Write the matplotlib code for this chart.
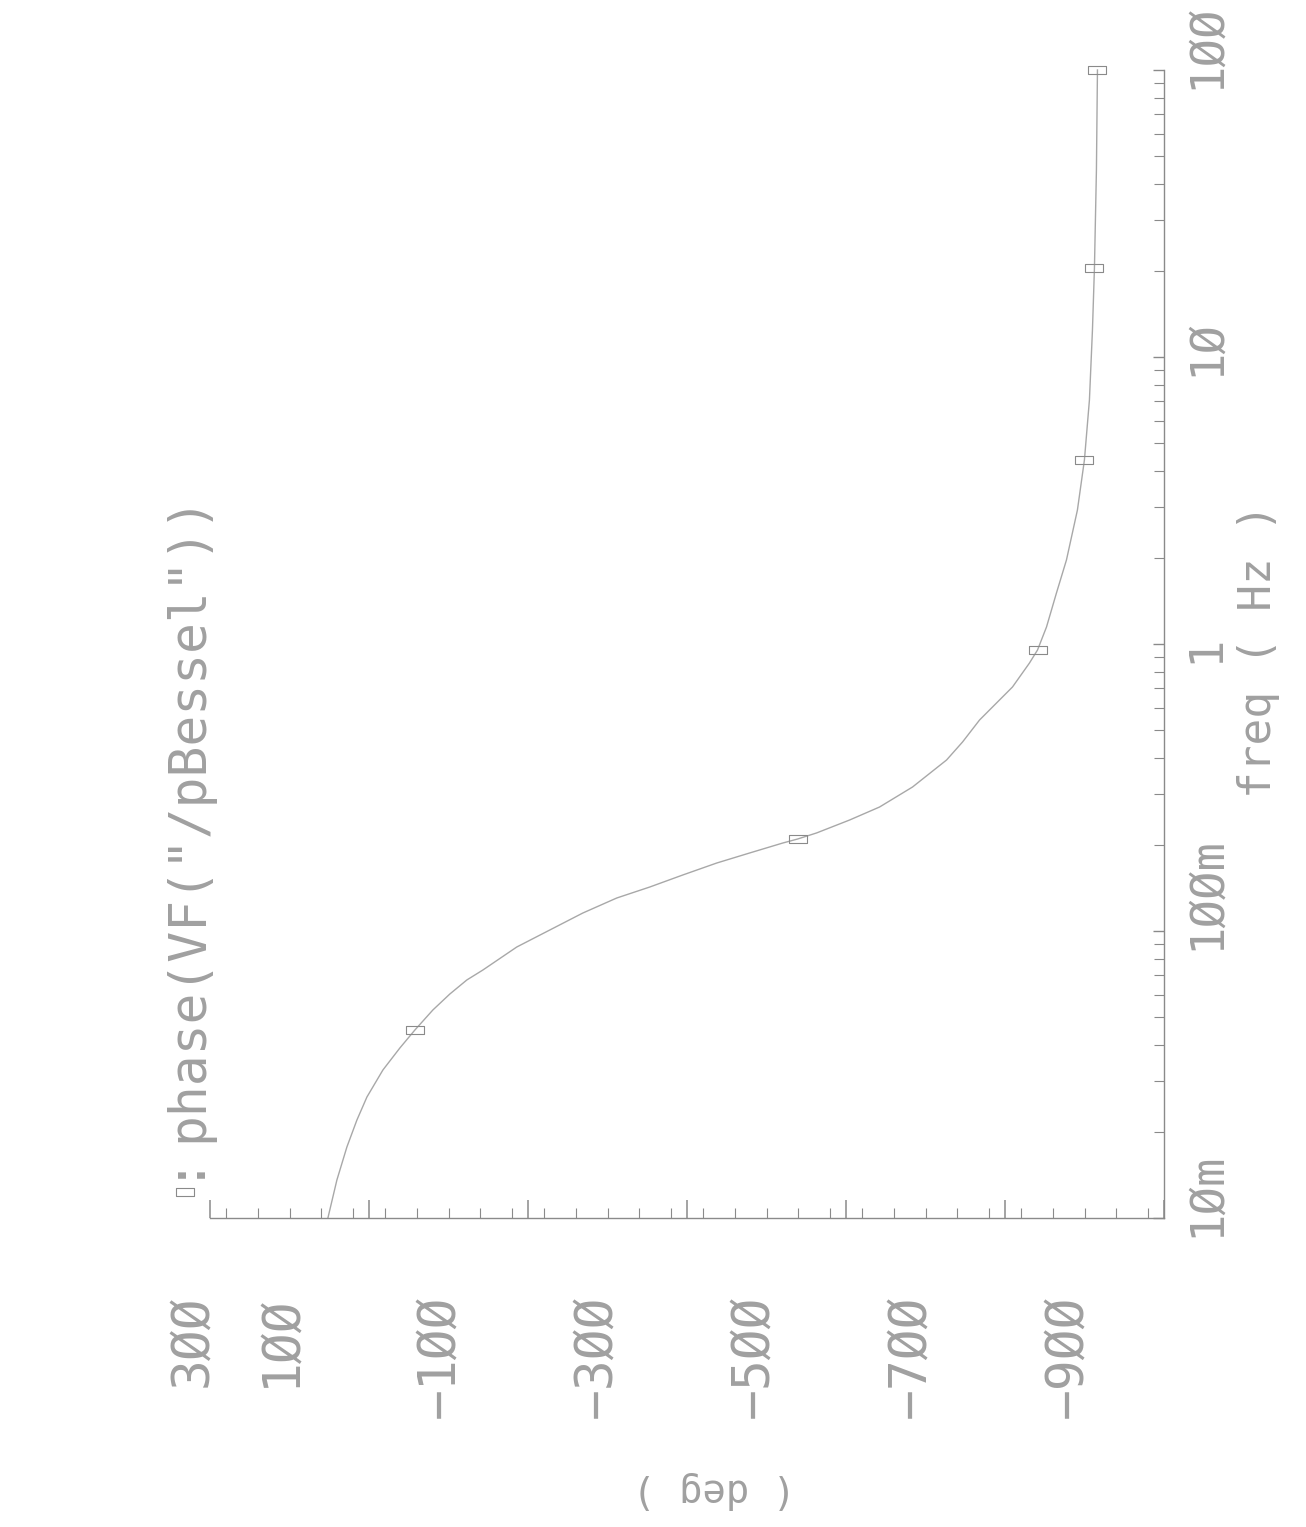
import matplotlib
matplotlib.use("Agg")
import matplotlib.pyplot as plt
import numpy as np
from matplotlib.path import Path
from matplotlib.lines import Line2D
from matplotlib.transforms import ScaledTranslation
from matplotlib.ticker import FixedLocator, LogLocator, NullFormatter, MultipleLocator

# phase of VF("/pBessel") (freq in Hz, phase in deg)
freq = [0.01, 0.01356, 0.01768, 0.02195, 0.0264, 0.03279, 0.03911, 0.04518,
        0.05305, 0.06032, 0.06752, 0.07311, 0.08796, 0.1008, 0.1155, 0.1303,
        0.1423, 0.1567, 0.1725, 0.187, 0.2025, 0.2092, 0.2196, 0.2436, 0.2704,
        0.3175, 0.3943, 0.4556, 0.5435, 0.6228, 0.7082, 0.8586, 0.953, 1.146,
        1.505, 1.962, 2.93, 4.377, 7.084, 12.42, 20.42, 44.84, 100]
phase = [151.7, 140.4, 127.8, 115.2, 102.6, 82.5, 61.2, 42.3,
         19.7, -1.7, -23.1, -43.2, -85.9, -127.4, -168.9, -211.6,
         -253.1, -294.6, -337.3, -378.8, -420.3, -439.2, -463.0, -504.5, -542.2,
         -583.7, -626.5, -646.6, -668.0, -689.3, -709.4, -730.8, -740.9, -752.2,
         -764.7, -777.3, -791.1, -799.9, -806.2, -810.0, -812.5, -815.0, -816.3]
marker_idx = [7, 21, 32, 37, 40, 42]

deg_ticks = [300, 100, -100, -300, -500, -700, -900]
deg_labels = ["3ØØ", "1ØØ", "−1ØØ", "−3ØØ", "−5ØØ", "−7ØØ", "−9ØØ"]
freq_ticks = [0.01, 0.1, 1, 10, 100]
freq_labels = ["1Øm", "1ØØm", "1", "1Ø", "1ØØ"]

W, H = 1306, 1527
grey = "#8a8a8a"
tgrey = "#a0a0a0"
plt.rcParams['font.family'] = ['DejaVu Sans Mono', 'DejaVu Sans']
fs = 37

fig = plt.figure(figsize=(W / 100, H / 100), dpi=100)
ax = fig.add_axes([210 / W, (H - 1218) / H, (1164 - 210) / W, (1218 - 70) / H])

rect = Path([(-1, -0.4), (1, -0.4), (1, 0.4), (-1, 0.4), (-1, -0.4)],
            [Path.MOVETO, Path.LINETO, Path.LINETO, Path.LINETO, Path.CLOSEPOLY])
ax.plot(phase, freq, color="#a8a8a8", lw=1.0, marker=rect, markevery=marker_idx,
        ms=13, mfc="none", mec=grey, mew=0.8, clip_on=False)

ax.set_yscale("log")
ax.set_xlim(300, -900)
ax.set_ylim(0.01, 100)

for s in ["top", "left"]:
    ax.spines[s].set_visible(False)
for s in ["bottom", "right"]:
    ax.spines[s].set_color(grey)
    ax.spines[s].set_linewidth(1.0)

ax.xaxis.set_major_locator(FixedLocator(deg_ticks))
ax.xaxis.set_minor_locator(MultipleLocator(40))
ax.set_xticklabels(deg_labels)
ax.yaxis.tick_right()
ax.yaxis.set_major_locator(FixedLocator(freq_ticks))
ax.yaxis.set_minor_locator(LogLocator(subs=np.arange(2, 10)))
ax.yaxis.set_minor_formatter(NullFormatter())
ax.set_yticklabels(freq_labels)

ax.tick_params(axis="x", which="major", direction="in", length=13, width=1.1,
               color=grey, pad=55, labelsize=fs, labelcolor=tgrey, labelrotation=90)
ax.tick_params(axis="x", which="minor", direction="in", length=7, width=0.8, color=grey)
ax.tick_params(axis="y", which="major", direction="in", length=8, width=1.0,
               color=grey, pad=14, labelsize=34, labelcolor=tgrey, labelrotation=90)
ax.tick_params(axis="y", which="minor", direction="in", length=7, width=0.8, color=grey)

# plotter places the deg labels to the left of their ticks
x_shift = [-17, -88, -88, -90, -92, -94, -96]
for lab, dx in zip(ax.get_xticklabels(), x_shift):
    lab.set_transform(lab.get_transform() + ScaledTranslation(dx / 100, 0, fig.dpi_scale_trans))
for lab in ax.get_yticklabels():
    lab.set_va("bottom")
    lab.set_transform(lab.get_transform() + ScaledTranslation(0, -19 / 100, fig.dpi_scale_trans))

fig.text(1258 / W, 1 - 651 / H, "freq ( Hz )", rotation=90, ha="center", va="center",
         fontsize=32, color=tgrey)
fig.text(714 / W, 1 - 1490 / H, "( deg )", rotation=180, ha="center", va="center",
         fontsize=28, color=tgrey)

# legend / title
fig.add_artist(Line2D([185 / W], [1 - 1192 / H], transform=fig.transFigure, marker=rect,
                      ms=13, mfc="none", mec=grey, mew=0.8, ls="none"))
fig.text(180 / W, 1 - 1163 / H, ":", rotation=90, ha="center", va="center",
         fontsize=fs, color=tgrey)
fig.text(188 / W, 1 - 1142 / H, 'phase(VF("/pBessel"))', rotation=90, ha="center",
         va="bottom", fontsize=fs, color=tgrey)

fig.savefig("out.png", dpi=100, facecolor="white")
